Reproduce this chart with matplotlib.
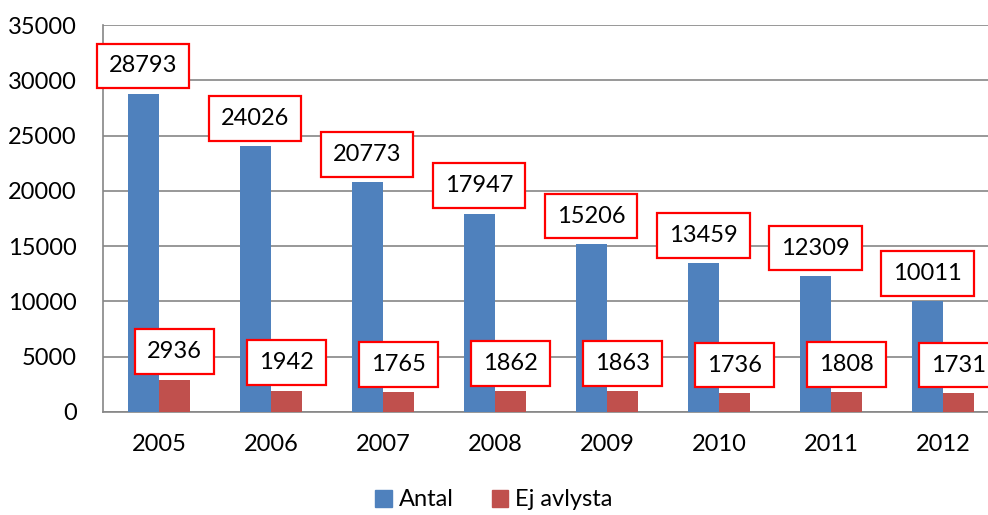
import numpy as np
import matplotlib.pyplot as plt
from matplotlib.patches import Patch

years = ['2005', '2006', '2007', '2008', '2009', '2010', '2011', '2012']
antal = [28793, 24026, 20773, 17947, 15206, 13459, 12309, 10011]
ej_avlysta = [2936, 1942, 1765, 1862, 1863, 1736, 1808, 1731]

plt.rcParams['font.family'] = ['Lato', 'DejaVu Sans']

fig = plt.figure(figsize=(9.88, 5.15), dpi=100)
ax = fig.add_axes([103/988, 1 - 412/515, 896/988, 387/515])

x = np.arange(len(years))
w = 0.28
blue = '#4F81BD'
red = '#C0504D'
b1 = ax.bar(x - w/2, antal, w, color=blue, zorder=3)
b2 = ax.bar(x + w/2, ej_avlysta, w, color=red, zorder=3)

box = dict(boxstyle='square,pad=0.5', fc='white', ec='#FF0000', lw=1.6)
for bars in (b1, b2):
    for r in bars:
        ax.annotate(str(int(r.get_height())), (r.get_x() + r.get_width()/2, r.get_height()),
                    xytext=(0, 20), textcoords='offset points', ha='center', va='center',
                    fontsize=17, bbox=box, zorder=5, annotation_clip=False)

ax.set_xlim(-0.5, 7.5)
ax.set_ylim(0, 35000)
ax.set_yticks(range(0, 35001, 5000))
ax.set_xticks(x)
ax.set_xticklabels(years)
ax.tick_params(length=0, labelsize=17)
ax.tick_params(axis='x', pad=16)
ax.tick_params(axis='y', pad=19)
ax.yaxis.grid(True, color='#868686', lw=1.2, zorder=0)
for s in ['top', 'right']:
    ax.spines[s].set_visible(False)
for s in ['left', 'bottom']:
    ax.spines[s].set_color('#868686')
    ax.spines[s].set_linewidth(1.2)

handles = [Patch(color=blue, label='Antal'), Patch(color=red, label='Ej avlysta')]
fig.legend(handles=handles, loc='center', bbox_to_anchor=(0.5, 1 - 500/515), ncol=2,
           frameon=False, fontsize=17, handlelength=0.7, handleheight=0.7,
           handletextpad=0.3, columnspacing=1.6)

fig.savefig('out.png', dpi=100)
